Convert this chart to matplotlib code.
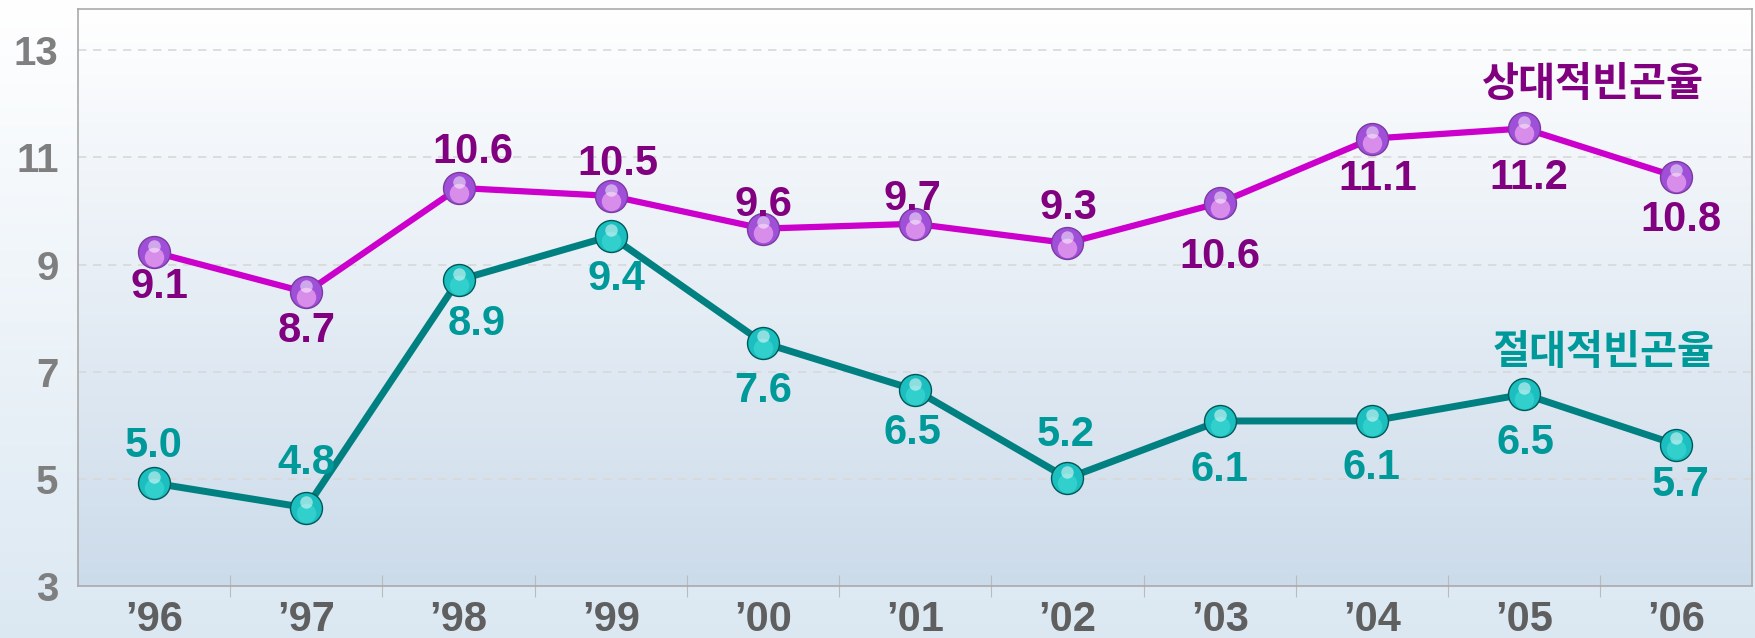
import numpy as np
import matplotlib
matplotlib.use('Agg')
import matplotlib.pyplot as plt
import matplotlib.transforms as mtransforms

plt.rcParams['font.family'] = ['Liberation Sans', 'Noto Sans CJK KR', 'DejaVu Sans']

years = ['\u201996', '\u201997', '\u201998', '\u201999', '\u201900', '\u201901',
         '\u201902', '\u201903', '\u201904', '\u201905', '\u201906']
# point positions as drawn in the chart
relative = [9.23, 8.48, 10.43, 10.28, 9.67, 9.76, 9.40, 10.15, 11.35, 11.54, 10.64]
absolute = [4.92, 4.46, 8.71, 9.53, 7.54, 6.66, 5.01, 6.08, 6.08, 6.58, 5.64]
# value labels as printed
relative_labels = ['9.1', '8.7', '10.6', '10.5', '9.6', '9.7', '9.3', '10.6', '11.1', '11.2', '10.8']
absolute_labels = ['5.0', '4.8', '8.9', '9.4', '7.6', '6.5', '5.2', '6.1', '6.1', '6.5', '5.7']
# label offsets (points)
relative_dx = [4, 0, 10, 5, 0, -2, 1, 0, 4, 3, 3]
relative_dy = [-25, -28, 26, 23, 17, 18, 25, -39, -29, -36, -31]
absolute_dx = [0, 0, 13, 4, 0, -2, -1, 0, 0, 1, 3]
absolute_dy = [27, 32, -32, -31, -35, -31, 31, -35, -34, -35, -29]
yticks = [3, 5, 7, 9, 11, 13]

fig = plt.figure(figsize=(17.56, 6.38), dpi=100)

# figure background gradient
bg = fig.add_axes([0, 0, 1, 1], zorder=-10)
grad = np.linspace(0, 1, 256).reshape(-1, 1)
top_c = np.array([1.0, 1.0, 1.0])
bot_c = np.array([0.86, 0.91, 0.95])
img = top_c + (bot_c - top_c) * grad[..., None]
bg.imshow(img, aspect='auto', extent=[0, 1, 0, 1], origin='upper')
bg.axis('off')

ax = fig.add_axes([0.0444, 0.0815, 0.9536, 0.9045])
ax.set_facecolor('none')
x = np.arange(len(years))
ax.set_xlim(-0.5, len(years) - 0.5)
ax.set_ylim(3, 13.77)

# axes background gradient
top_a = np.array([1.0, 1.0, 1.0])
bot_a = np.array([0.80, 0.86, 0.92])
img2 = top_a + (bot_a - top_a) * grad[..., None]
ax.imshow(img2, aspect='auto', extent=[-0.5, len(years) - 0.5, 3, 13.77],
          origin='upper', zorder=0)

for v in yticks[1:]:
    ax.axhline(v, color='#D8D8D8', lw=1.2, ls=(0, (5, 4)), zorder=1)

for s in ax.spines.values():
    s.set_color('#AAAAAA')
    s.set_linewidth(1.2)

ax.set_yticks(yticks)
ax.set_xticks(x)
ax.set_xticklabels(years)
ax.set_xticks(np.arange(0.5, len(years) - 1, 1), minor=True)
ax.tick_params(axis='y', length=0, pad=14, labelsize=29, labelcolor='#7F7F7F')
ax.tick_params(axis='x', which='major', length=0, pad=10, labelsize=30, labelcolor='#5F5F5F')
ax.tick_params(axis='x', which='minor', direction='inout', length=16, width=0.8, color='#BBBBBB')
for lab in ax.get_xticklabels() + ax.get_yticklabels():
    lab.set_fontweight('bold')

hl = mtransforms.offset_copy(ax.transData, fig=fig, x=0, y=4.5, units='points')
lo = mtransforms.offset_copy(ax.transData, fig=fig, x=0, y=-3.5, units='points')

# relative poverty line
ax.plot(x, relative, color='#CC00CC', lw=4.5, zorder=3)
ax.plot(x, relative, 'o', ms=23, mfc='#A050D8', mec='#7A3AA0', mew=1, zorder=4)
ax.plot(x, relative, 'o', ms=14, mfc='#EBA2F2', mec='none', alpha=0.75, zorder=4, transform=lo)
ax.plot(x, relative, 'o', ms=9, mfc='white', mec='none', alpha=0.5, zorder=5, transform=hl)

# absolute poverty line
ax.plot(x, absolute, color='#008080', lw=5, zorder=3)
ax.plot(x, absolute, 'o', ms=23, mfc='#1CBFBF', mec='#005858', mew=1, zorder=4)
ax.plot(x, absolute, 'o', ms=14, mfc='#40DCD8', mec='none', alpha=0.6, zorder=4, transform=lo)
ax.plot(x, absolute, 'o', ms=9, mfc='white', mec='none', alpha=0.5, zorder=5, transform=hl)

for xi, yi, t, dx, dy in zip(x, relative, relative_labels, relative_dx, relative_dy):
    ax.annotate(t, (xi, yi), xytext=(dx, dy), textcoords='offset points',
                ha='center', va='center', fontsize=30, fontweight='bold',
                color='#800080', zorder=6)
for xi, yi, t, dx, dy in zip(x, absolute, absolute_labels, absolute_dx, absolute_dy):
    ax.annotate(t, (xi, yi), xytext=(dx, dy), textcoords='offset points',
                ha='center', va='center', fontsize=30, fontweight='bold',
                color='#009999', zorder=6)

fig.text(1593 / 1756, 1 - 85 / 638, '상대적빈곤율', ha='center', va='center',
         fontsize=29, fontweight='bold', color='#800080',
         family=['Noto Sans CJK KR', 'DejaVu Sans'])
fig.text(1604 / 1756, 1 - 353 / 638, '절대적빈곤율', ha='center', va='center',
         fontsize=29, fontweight='bold', color='#009999',
         family=['Noto Sans CJK KR', 'DejaVu Sans'])

fig.savefig('out.png', dpi=100)
